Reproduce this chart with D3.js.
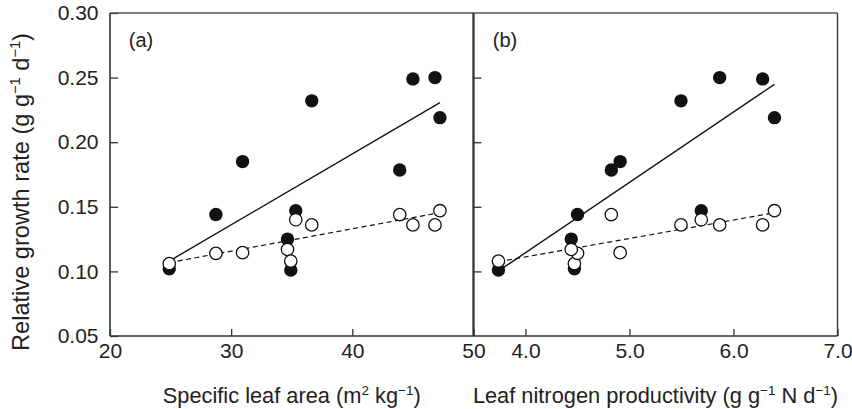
<!DOCTYPE html>
<html>
<head>
<meta charset="utf-8">
<script src="https://cdn.jsdelivr.net/npm/d3@7"></script>
<style>
  body { margin: 0; background: #fff; }
  svg { display: block; font-family: "Liberation Sans", Arial, sans-serif; }
  .tick line { stroke: #333; stroke-width: 1.3; }
  .tick text { fill: #222; font-size: 21px; }
</style>
</head>
<body>
<div id="app"></div>
<script>
// species values, same order in every array
const sla = [24.89, 28.74, 30.94, 34.65, 34.92, 35.33, 36.65, 43.91, 45.0, 46.82, 47.23];
const lnp = [4.47, 4.50, 4.91, 4.44, 3.74, 5.69, 5.495, 4.825, 6.28, 5.867, 6.394];
const rgrFilled = [0.102, 0.144, 0.185, 0.125, 0.101, 0.147, 0.232, 0.1785, 0.249, 0.250, 0.219];
const rgrOpen = [0.106, 0.114, 0.1145, 0.117, 0.108, 0.140, 0.136, 0.144, 0.136, 0.136, 0.147];

// fitted lines (start, end)
const fitA = [[24.89, 0.108], [47.23, 0.2306]];
const fitADashed = [[24.89, 0.1068], [47.23, 0.1455]];
const fitB = [[3.74, 0.1003], [6.394, 0.2448]];
const fitBDashed = [[3.74, 0.1075], [6.394, 0.1454]];

const yTicks = [0.05, 0.10, 0.15, 0.20, 0.25, 0.30];
const xTicksA = [20, 30, 40, 50];
const xTicksB = [4.0, 5.0, 6.0, 7.0];

const w = 852, h = 409;
const topY = 13, bottomY = 336;
const leftA = 110, mid = 473.5, rightB = 837.5;

const svg = d3.select('#app')
  .append('svg')
  .attr('width', w)
  .attr('height', h);

const yScale = d3.scaleLinear().domain([0.05, 0.30]).range([bottomY, topY]);
const xA = d3.scaleLinear().domain([20, 50]).range([leftA, mid]);
const xB = d3.scaleLinear().domain([3.5, 7.0]).range([mid, rightB]);

/////////AXES//////////
svg.append('g')
  .attr('transform', 'translate(0,' + bottomY + ')')
  .call(d3.axisBottom(xA).tickValues(xTicksA).tickFormat(d3.format('d')).tickSizeInner(-7).tickSizeOuter(0).tickPadding(7))
  .call(g => g.select('.domain').remove());

svg.append('g')
  .attr('transform', 'translate(0,' + bottomY + ')')
  .call(d3.axisBottom(xB).tickValues(xTicksB).tickFormat(d3.format('.1f')).tickSizeInner(-7).tickSizeOuter(0).tickPadding(7))
  .call(g => g.select('.domain').remove());

svg.append('g')
  .attr('transform', 'translate(' + leftA + ',0)')
  .call(d3.axisLeft(yScale).tickValues(yTicks).tickFormat(d3.format('.2f')).tickSizeInner(-8).tickSizeOuter(0).tickPadding(11.5))
  .call(g => g.select('.domain').remove());

svg.append('g')
  .attr('transform', 'translate(' + mid + ',0)')
  .call(d3.axisLeft(yScale).tickValues(yTicks.slice(1, -1)).tickFormat('').tickSizeInner(-8).tickSizeOuter(0))
  .call(g => g.select('.domain').remove());

// frame
const frame = svg.append('g').attr('stroke', '#333').attr('fill', 'none');
frame.append('line').attr('x1', leftA).attr('x2', rightB).attr('y1', topY).attr('y2', topY).attr('stroke', '#555').attr('stroke-width', 1.5);
frame.append('line').attr('x1', leftA).attr('x2', rightB).attr('y1', bottomY).attr('y2', bottomY).attr('stroke-width', 1.5);
frame.append('line').attr('x1', leftA).attr('x2', leftA).attr('y1', topY).attr('y2', bottomY).attr('stroke-width', 1.6);
frame.append('line').attr('x1', mid).attr('x2', mid).attr('y1', topY).attr('y2', bottomY).attr('stroke-width', 2.3);
frame.append('line').attr('x1', rightB).attr('x2', rightB).attr('y1', topY).attr('y2', bottomY).attr('stroke-width', 1.3);

//////////TITLES//////////
// parts alternate normal text / superscript; shift is in px
function withSup(sel, parts, size) {
  const shift = size * 0.38;
  let raised = false;
  parts.forEach(p => {
    const t = sel.append('tspan');
    if (p.sup) {
      t.attr('font-size', size * 0.62).attr('dy', -shift).text(p.sup);
      raised = true;
    } else {
      if (raised) t.attr('dy', shift);
      raised = false;
      t.text(p.t);
    }
  });
}

const xTitleA = svg.append('text')
  .attr('x', (leftA + mid) / 2)
  .attr('y', 403)
  .attr('text-anchor', 'middle')
  .attr('font-size', 21.8)
  .attr('fill', '#222');
withSup(xTitleA, [{ t: 'Specific leaf area (m' }, { sup: '2' }, { t: ' kg' }, { sup: '\u22121' }, { t: ')' }], 21.8);

const xTitleB = svg.append('text')
  .attr('x', (mid + rightB) / 2)
  .attr('y', 403)
  .attr('text-anchor', 'middle')
  .attr('font-size', 21.8)
  .attr('fill', '#222');
withSup(xTitleB, [{ t: 'Leaf nitrogen productivity (g g' }, { sup: '\u22121' }, { t: ' N d' }, { sup: '\u22121' }, { t: ')' }], 21.8);

const yTitle = svg.append('text')
  .attr('transform', 'translate(29,' + 192 + ') rotate(-90)')
  .attr('text-anchor', 'middle')
  .attr('font-size', 23.6)
  .attr('fill', '#222');
withSup(yTitle, [{ t: 'Relative growth rate (g g' }, { sup: '\u22121' }, { t: ' d' }, { sup: '\u22121' }, { t: ')' }], 23.6);

svg.append('text').attr('x', 141).attr('y', 47).attr('text-anchor', 'middle').attr('font-size', 20).attr('fill', '#222').text('(a)');
svg.append('text').attr('x', 505).attr('y', 47).attr('text-anchor', 'middle').attr('font-size', 20).attr('fill', '#222').text('(b)');

//////////LINES//////////
function fitLine(xs, pts, dashed) {
  svg.append('path')
    .datum(pts)
    .attr('d', d3.line().x(d => xs(d[0])).y(d => yScale(d[1])))
    .attr('fill', 'none')
    .attr('stroke', '#111')
    .attr('stroke-width', dashed ? 1.2 : 1.4)
    .attr('stroke-dasharray', dashed ? '5,3.5' : null);
}
fitLine(xA, fitA, false);
fitLine(xA, fitADashed, true);
fitLine(xB, fitB, false);
fitLine(xB, fitBDashed, true);

//////////POINTS//////////
function points(xs, xv) {
  svg.append('g').selectAll('circle')
    .data(rgrFilled)
    .join('circle')
    .attr('cx', (d, i) => xs(xv[i]))
    .attr('cy', d => yScale(d))
    .attr('r', 6.7)
    .attr('fill', '#111');

  svg.append('g').selectAll('circle')
    .data(rgrOpen)
    .join('circle')
    .attr('cx', (d, i) => xs(xv[i]))
    .attr('cy', d => yScale(d))
    .attr('r', 6.2)
    .attr('fill', '#fff')
    .attr('stroke', '#111')
    .attr('stroke-width', 1.3);
}
points(xA, sla);
points(xB, lnp);
</script>
</body>
</html>
